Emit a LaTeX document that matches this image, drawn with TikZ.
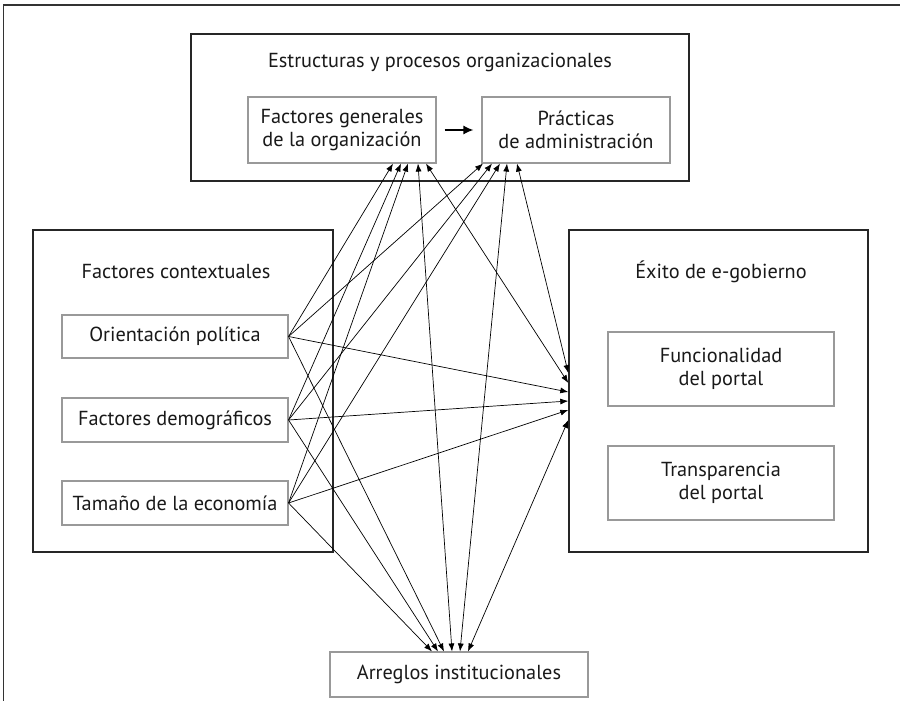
\documentclass[tikz,border=0pt]{standalone}
\usepackage{fontspec}
\setmainfont{PT Sans}
\usetikzlibrary{arrows.meta}
\begin{document}
\begin{tikzpicture}[x=1pt,y=-1pt,
  outerbox/.style={draw=black!85,line width=1.4pt,rectangle,inner sep=0pt},
  innerbox/.style={draw=black!40,line width=1.1pt,rectangle,inner sep=0pt,align=center,
    font=\fontsize{20.3}{23.5}\selectfont,text=black!90},
  title/.style={font=\fontsize{20.3}{23.5}\selectfont,inner sep=0pt,text=black!90},
  conn/.style={draw=black,line width=0.7pt,-{Latex[length=8pt,width=6pt]}},
  biconn/.style={draw=black,line width=0.7pt,{Latex[length=8pt,width=6pt]}-{Latex[length=8pt,width=6pt]}},
  thickarrow/.style={draw=black,line width=1.5pt,-{Latex[length=10pt,width=9pt]}}]
\useasboundingbox (0,0) rectangle (900,701);
\fill[white] (0,0) rectangle (900,701);
% outer frame (partly cropped)
\draw[black!80,line width=1.2pt] (3.5,701) -- (3.5,5) -- (900,5);

% top group
\node[outerbox,minimum width=498pt,minimum height=147pt] (sp) at (440,107.5) {};
\node[title] (sptitle) at (440,62) {Estructuras y procesos organizacionales};
\node[innerbox,minimum width=188pt,minimum height=66pt] (fg) at (342,130) {Factores generales\\de la organización};
\node[innerbox,minimum width=188pt,minimum height=66pt] (pa) at (576,130) {Prácticas\\de administración};

% left group
\node[outerbox,minimum width=300pt,minimum height=322pt] (ctx) at (183,391) {};
\node[title] (ctxtitle) at (176,272) {Factores contextuales};
\node[innerbox,minimum width=226pt,minimum height=43pt] (o) at (175,336.5) {Orientación política};
\node[innerbox,minimum width=226pt,minimum height=44pt] (d) at (175,420) {Factores demográficos};
\node[innerbox,minimum width=226pt,minimum height=44pt] (t) at (175,503) {Tamaño de la economía};

% right group
\node[outerbox,minimum width=299pt,minimum height=322pt] (eg) at (718.5,391) {};
\node[title] (egtitle) at (721,272) {Éxito de e-gobierno};
\node[innerbox,minimum width=226pt,minimum height=74pt] (fu) at (721,369) {Funcionalidad\\del portal};
\node[innerbox,minimum width=226pt,minimum height=74pt] (tr) at (721,483) {Transparencia\\del portal};

% bottom
\node[innerbox,minimum width=258pt,minimum height=45pt] (ai) at (459,674.5) {Arreglos institucionales};

% FG -> PA
\draw[thickarrow] ([xshift=8pt]fg.east) -- ([xshift=-8pt]pa.west);

% context -> FG
\draw[conn] (o.east) -- ([xshift=51pt]fg.south);
\draw[conn] (d.east) -- ([xshift=59pt]fg.south);
\draw[conn] (t.east) -- ([xshift=66pt]fg.south);
% context -> PA
\draw[conn] (o.east) -- ([xshift=-93pt]pa.south);
\draw[conn] (d.east) -- ([xshift=-84pt]pa.south);
\draw[conn] (t.east) -- ([xshift=-76pt]pa.south);
% context -> EG
\draw[conn] (o.east) -- ([yshift=-1pt]eg.west);
\draw[conn] (d.east) -- ([yshift=-10pt]eg.west);
\draw[conn] (t.east) -- ([yshift=-19pt]eg.west);
% context -> AI
\draw[conn] (o.east) -- ([xshift=-15pt]ai.north);
\draw[conn] (d.east) -- ([xshift=-21pt]ai.north);
\draw[conn] (t.east) -- ([xshift=-27pt]ai.north);
% FG <-> AI, PA <-> AI
\draw[biconn] ([xshift=76pt]fg.south) -- ([xshift=-7pt]ai.north);
\draw[biconn] ([xshift=-69pt]pa.south) -- ([xshift=1pt]ai.north);
% FG <-> EG, PA <-> EG
\draw[biconn] ([xshift=84pt]fg.south) -- ([yshift=8pt]eg.west);
\draw[biconn] ([xshift=-59pt]pa.south) -- ([yshift=18pt]eg.west);
% EG <-> AI
\draw[biconn] ([yshift=-29pt]eg.west) -- ([xshift=9pt]ai.north);
\end{tikzpicture}
\end{document}
